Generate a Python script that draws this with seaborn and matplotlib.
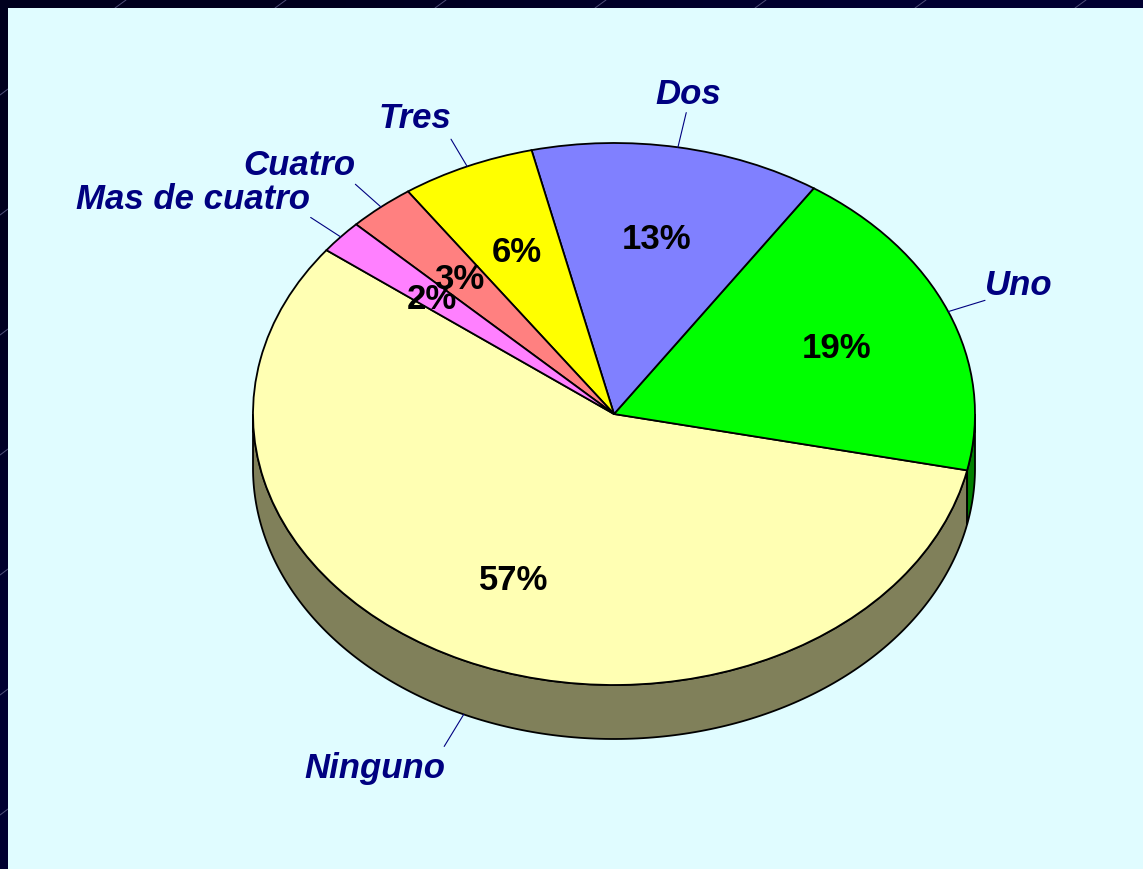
import numpy as np
import seaborn as sns
import matplotlib.pyplot as plt
from matplotlib.colors import LinearSegmentedColormap
from matplotlib.lines import Line2D
from matplotlib.patches import Rectangle

categories = ['Ninguno', 'Uno', 'Dos', 'Tres', 'Cuatro', 'Mas de cuatro']
values = [57, 19, 13, 6, 3, 2]
top_colors = ['#FFFFB3', '#00FF00', '#8080FF', '#FFFF00', '#FF8080', '#FF80FF']
side_colors = ['#80805A', '#008000', '#404080', '#808000', '#804040', '#804080']

W, H = 1143, 869
CX, CY = 614, 414     # pie centre in pixels
RX, RY = 361, 271     # ellipse radii in pixels
DEPTH = 54 / RY       # height of the side wall

# leader length, alignment and text offset (points) per label
label_style = {
    'Ninguno': (1.13, 'right', 'top', (0.7, -4)),
    'Uno': (1.11, 'left', 'center', (0, 11)),
    'Dos': (1.13, 'center', 'bottom', (1.5, 1.2)),
    'Tres': (1.11, 'right', 'bottom', (0, 3)),
    'Cuatro': (1.11, 'right', 'bottom', (0, 1.5)),
    'Mas de cuatro': (1.11, 'right', 'bottom', (-0.7, 1)),
}

sns.set_theme(style='white')
plt.rcParams['font.family'] = ['Liberation Sans', 'DejaVu Sans']

fig = plt.figure(figsize=(W / 100, H / 100), dpi=100)

# dark backdrop, a little bluer towards the bottom right
back = fig.add_axes([0, 0, 1, 1], zorder=0)
back.imshow([[0.0, 0.5], [0.5, 1.0]], aspect='auto', interpolation='bilinear',
            cmap=LinearSegmentedColormap.from_list('frame', ['#00001E', '#000044']))
back.set_axis_off()

# faint diagonal ticks showing in the frame
for px in np.arange(120, W, 160):
    fig.add_artist(Line2D([(px - 5) / W, (px + 6) / W], [1 - 8 / H, 1], color='#50507A', lw=0.7, zorder=1))
for py in np.arange(92, H, 120):
    fig.add_artist(Line2D([0, 8 / W], [1 - (py + 3) / H, 1 - (py - 3) / H], color='#50507A', lw=0.7, zorder=1))

ax = fig.add_axes([0, 0, 1, 1], zorder=2)
ax.patch.set_visible(False)

edge = dict(edgecolor='black', linewidth=1.3)
wedges, _, pcts = ax.pie(values, colors=top_colors, startangle=142.8, counterclock=True,
                         autopct='%.0f%%', pctdistance=0.665, wedgeprops=edge,
                         textprops=dict(fontsize=25, fontweight='bold', color='black'))

# the pie is squashed to an ellipse by letting the axes limits run free
ax.set_aspect('auto')
ax.set_xlim(-CX / RX, (W - CX) / RX)
ax.set_ylim((CY - H) / RY, CY / RY)
ax.set_axis_off()

ax.add_patch(Rectangle((8 / W, 0), 1, 1 - 8 / H, transform=ax.transAxes,
                       facecolor='#E0FCFF', edgecolor='none', zorder=-5))

# side wall for the part of each wedge facing the viewer
for w, col in zip(wedges, side_colors):
    t1, t2 = w.theta1 % 360, w.theta2 % 360
    if t2 < t1:
        t2 += 360
    a, b = max(t1, 180), min(t2, 360)
    if b <= a:
        continue
    t = np.radians(np.linspace(a, b, 200))
    x = np.cos(t)
    y = np.sin(t)
    ax.fill(np.r_[x, x[::-1]], np.r_[y, y[::-1] - DEPTH], facecolor=col, zorder=-1, **edge)

for t in pcts:
    px, py = t.get_position()
    t.set_position((px, py - 3 / RY))
    t.set_zorder(5)

# outer labels with thin leader lines
for w, name in zip(wedges, categories):
    mid = np.radians((w.theta1 + w.theta2) / 2)
    x, y = np.cos(mid), np.sin(mid)
    r, ha, va, off = label_style[name]
    low = DEPTH if name == 'Ninguno' else 0
    ax.plot([x, r * x], [y - low, r * y - low], color='#000080', lw=0.8, zorder=4)
    ax.annotate(name, (r * x, r * y - low), xytext=off, textcoords='offset points',
                ha=ha, va=va, fontsize=25, fontweight='bold', fontstyle='italic',
                color='#000080', zorder=6)

fig.savefig('out.png', dpi=100)
